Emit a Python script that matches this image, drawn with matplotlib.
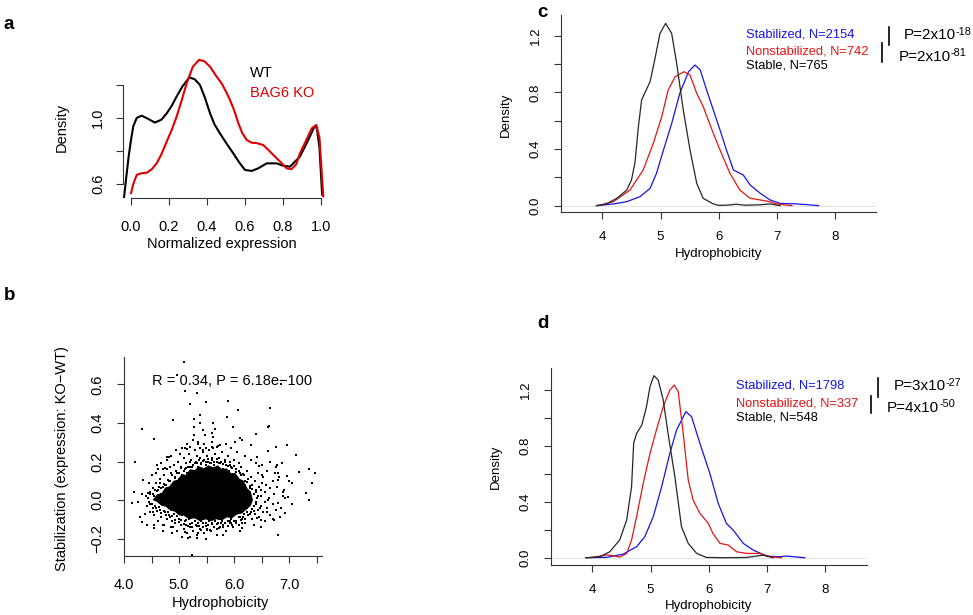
import numpy as np
import matplotlib
matplotlib.use('Agg')
import matplotlib.pyplot as plt
from matplotlib.lines import Line2D
from matplotlib.text import Annotation

plt.rcParams['font.family'] = ['Liberation Sans', 'DejaVu Sans']

# ---- panel a : density of normalized expression ----
wt_x = [-0.037, -0.025, -0.012, 0.0, 0.012, 0.03, 0.056, 0.09, 0.126, 0.16, 0.188, 0.215, 0.24, 0.27,
        0.307, 0.335, 0.363, 0.39, 0.416, 0.44, 0.468, 0.50, 0.538, 0.57, 0.60, 0.635, 0.67, 0.714,
        0.767, 0.80, 0.837, 0.889, 0.933, 0.962, 0.977, 0.992, 1.006]
wt_y = [0.515, 0.64, 0.77, 0.867, 0.95, 1.0, 1.014, 0.995, 0.972, 0.99, 1.028, 1.075, 1.13, 1.19,
        1.246, 1.235, 1.20, 1.12, 1.028, 0.96, 0.907, 0.85, 0.786, 0.73, 0.685, 0.679, 0.695, 0.725,
        0.725, 0.711, 0.705, 0.766, 0.867, 0.94, 0.947, 0.82, 0.533]
ko_x = [0.0, 0.012, 0.03, 0.055, 0.083, 0.11, 0.135, 0.16, 0.188, 0.215, 0.24, 0.265, 0.293, 0.325,
        0.358, 0.385, 0.416, 0.445, 0.477, 0.50, 0.521, 0.545, 0.565, 0.585, 0.609, 0.635, 0.661,
        0.696, 0.72, 0.749, 0.785, 0.819, 0.845, 0.87, 0.889, 0.92, 0.951, 0.975, 0.992, 1.012]
ko_y = [0.543, 0.60, 0.655, 0.665, 0.668, 0.69, 0.725, 0.78, 0.857, 0.93, 1.008, 1.10, 1.21, 1.31,
        1.352, 1.345, 1.311, 1.26, 1.21, 1.16, 1.109, 1.04, 0.968, 0.91, 0.867, 0.85, 0.848,
        0.836, 0.81, 0.776, 0.735, 0.695, 0.69, 0.72, 0.786, 0.86, 0.937, 0.958, 0.88, 0.523]

# ---- panel b : stabilization vs hydrophobicity ----
r_text = 'R = 0.34, P = 6.18e\u2212100'
# dense centre of the cloud (outline)
core_x = [4.52, 4.60, 4.68, 4.75, 4.82, 4.90, 4.97, 5.05, 5.12, 5.20, 5.28, 5.36, 5.45, 5.53, 5.62,
          5.70, 5.78, 5.86, 5.94, 6.02, 6.10, 6.17, 6.24, 6.30, 6.34, 6.30, 6.22, 6.14, 6.05, 5.96,
          5.87, 5.78, 5.68, 5.58, 5.48, 5.38, 5.28, 5.18, 5.08, 5.00, 4.92, 4.84, 4.76, 4.68, 4.60]
core_y = [0.0, 0.03, 0.035, 0.065, 0.07, 0.10, 0.105, 0.135, 0.13, 0.16, 0.155, 0.175, 0.165, 0.18,
          0.17, 0.18, 0.16, 0.165, 0.14, 0.14, 0.11, 0.10, 0.06, 0.045, 0.0, -0.03, -0.05, -0.07,
          -0.075, -0.095, -0.09, -0.105, -0.10, -0.11, -0.10, -0.11, -0.095, -0.10, -0.08, -0.08,
          -0.06, -0.055, -0.035, -0.03, -0.01]
# points hugging the centre
ring_x = [4.44, 4.48, 4.52, 4.56, 4.60, 4.64, 4.68, 4.72, 4.76, 4.80, 4.84, 4.88, 4.92, 4.96, 5.00,
          5.04, 5.08, 5.12, 5.16, 5.20, 5.24, 5.28, 5.32, 5.36, 5.40, 5.44, 5.48, 5.52, 5.56, 5.60,
          5.64, 5.68, 5.72, 5.76, 5.80, 5.84, 5.88, 5.92, 5.96, 6.00, 6.04, 6.08, 6.12, 6.16, 6.20,
          6.24, 6.28, 6.32, 6.36, 6.39, 6.42,
          4.48, 4.52, 4.56, 4.60, 4.64, 4.68, 4.72, 4.76, 4.80, 4.84, 4.88, 4.92, 4.96, 5.00, 5.04,
          5.08, 5.12, 5.16, 5.20, 5.24, 5.28, 5.32, 5.36, 5.40, 5.44, 5.48, 5.52, 5.56, 5.60, 5.64,
          5.68, 5.72, 5.76, 5.80, 5.84, 5.88, 5.92, 5.96, 6.00, 6.04, 6.08, 6.12, 6.16, 6.20, 6.24,
          6.28, 6.32, 6.36, 6.40, 6.44, 6.46, 6.48]
ring_y = [0.012, 0.03, 0.03, 0.05, 0.045, 0.068, 0.06, 0.085, 0.08, 0.103, 0.10, 0.13, 0.115, 0.14,
          0.14, 0.165, 0.149, 0.165, 0.17, 0.195, 0.172, 0.19, 0.19, 0.21, 0.185, 0.201, 0.195,
          0.213, 0.192, 0.207, 0.197, 0.212, 0.19, 0.20, 0.186, 0.199, 0.175, 0.181, 0.165, 0.175,
          0.148, 0.153, 0.132, 0.135, 0.10, 0.095, 0.075, 0.055, 0.03, 0.04, 0.01,
          -0.02, -0.04, -0.03, -0.055, -0.035, -0.065, -0.058, -0.08, -0.06, -0.09, -0.083, -0.105,
          -0.085, -0.115, -0.105, -0.125, -0.105, -0.135, -0.122, -0.141, -0.11, -0.135, -0.133,
          -0.153, -0.119, -0.135, -0.129, -0.153, -0.123, -0.139, -0.125, -0.147, -0.119, -0.138,
          -0.12, -0.135, -0.108, -0.13, -0.11, -0.121, -0.089, -0.106, -0.09, -0.10, -0.063, -0.073,
          -0.045, -0.055, -0.02, 0.02, -0.04, 0.05]
# looser points further out
halo_x = [4.40, 4.45, 4.48, 4.52, 4.55, 4.58, 4.62, 4.65, 4.68, 4.70, 4.72, 4.75, 4.78, 4.80, 4.82,
          4.85, 4.88, 4.90, 4.92, 4.95, 4.98, 5.00, 5.03, 5.05, 5.08, 5.10, 5.12, 5.15, 5.18, 5.20,
          5.22, 5.25, 5.28, 5.30, 5.33, 5.35, 5.38, 5.40, 5.43, 5.45, 5.48, 5.50, 5.53, 5.55, 5.58,
          5.60, 5.63, 5.65, 5.68, 5.70, 5.73, 5.75, 5.78, 5.80, 5.83, 5.85, 5.88, 5.90, 5.93, 5.95,
          5.98, 6.00, 6.03, 6.05, 6.08, 6.10, 6.13, 6.15, 6.18, 6.20, 6.23, 6.25, 6.28, 6.30, 6.33,
          6.35, 6.38, 6.40, 6.43, 6.45, 6.48, 6.50, 6.53, 6.55, 6.58, 6.60, 6.63, 6.65, 6.70, 6.72,
          6.75, 6.78, 6.82, 6.88,
          4.42, 4.47, 4.50, 4.55, 4.58, 4.62, 4.65, 4.68, 4.72, 4.75, 4.78, 4.82, 4.85, 4.88, 4.90,
          4.93, 4.96, 5.00, 5.03, 5.05, 5.08, 5.10, 5.13, 5.15, 5.18, 5.20, 5.23, 5.25, 5.28, 5.30,
          5.33, 5.35, 5.38, 5.40, 5.43, 5.45, 5.48, 5.50, 5.53, 5.55, 5.58, 5.60, 5.63, 5.65, 5.68,
          5.70, 5.73, 5.75, 5.78, 5.80, 5.83, 5.85, 5.88, 5.90, 5.93, 5.95, 5.98, 6.00, 6.03, 6.05,
          6.08, 6.10, 6.13, 6.15, 6.18, 6.20, 6.23, 6.25, 6.28, 6.30, 6.33, 6.35, 6.38, 6.40, 6.43,
          6.45, 6.48, 6.52, 6.55, 6.60, 6.65, 6.70, 6.75,
          4.25, 4.32, 4.38, 4.45, 4.50, 4.55, 4.62, 4.68, 4.70, 4.78, 4.85, 4.88, 4.95, 5.05, 5.05,
          5.15, 5.25, 5.35, 5.45, 5.48, 5.60, 5.70, 5.80, 5.85, 5.95, 6.05, 6.10, 6.20, 6.30, 6.35,
          6.40, 6.50, 6.55, 6.65, 6.70, 6.80, 6.85, 6.90, 7.00, 7.05]
halo_y = [0.02, -0.01, 0.04, 0.06, 0.02, 0.09, 0.05, 0.11, 0.03, 0.07, 0.13, 0.08, 0.16, 0.05, 0.10,
          0.14, 0.07, 0.18, 0.12, 0.15, 0.20, 0.11, 0.17, 0.13, 0.22, 0.16, 0.19, 0.14, 0.24, 0.17,
          0.21, 0.18, 0.26, 0.20, 0.23, 0.17, 0.22, 0.19, 0.25, 0.21, 0.18, 0.23, 0.20, 0.26, 0.19,
          0.22, 0.18, 0.24, 0.20, 0.17, 0.22, 0.19, 0.25, 0.16, 0.21, 0.18, 0.23, 0.15, 0.20, 0.17,
          0.13, 0.21, 0.16, 0.12, 0.19, 0.14, 0.17, 0.10, 0.13, 0.08, 0.15, 0.11, 0.06, 0.12, 0.08,
          0.03, 0.10, 0.05, 0.14, 0.07, 0.02, 0.09, 0.12, 0.04, 0.08, 0.15, 0.01, 0.06, 0.10, 0.03,
          0.17, 0.07, 0.12, 0.02,
          -0.03, -0.06, -0.02, -0.08, -0.04, -0.11, -0.05, -0.09, -0.13, -0.06, -0.10, -0.08, -0.14,
          -0.11, -0.07, -0.12, -0.16, -0.10, -0.13, -0.08, -0.15, -0.11, -0.13, -0.17, -0.10, -0.14,
          -0.12, -0.16, -0.11, -0.13, -0.18, -0.12, -0.15, -0.11, -0.14, -0.17, -0.12, -0.15, -0.13,
          -0.11, -0.16, -0.12, -0.14, -0.11, -0.15, -0.12, -0.10, -0.14, -0.11, -0.13, -0.09, -0.16,
          -0.11, -0.08, -0.12, -0.10, -0.14, -0.08, -0.11, -0.06, -0.13, -0.09, -0.05, -0.10, -0.07,
          -0.12, -0.04, -0.08, -0.02, -0.06, -0.10, -0.03, -0.07, -0.01, -0.05, -0.09, -0.03, -0.06,
          -0.01, -0.04, -0.08, -0.02, -0.05,
          -0.01, 0.03, -0.07, 0.09, 0.13, -0.13, 0.16, 0.19, -0.16, 0.21, 0.23, -0.17, 0.26, 0.27,
          -0.19, 0.29, 0.31, 0.30, 0.29, -0.20, 0.30, 0.28, -0.18, 0.29, 0.27, 0.25, -0.16, 0.23,
          0.21, -0.13, 0.19, 0.18, -0.11, 0.20, -0.10, 0.14, -0.04, 0.05, 0.10, -0.02]
# isolated points
out_x = [5.095, 4.96, 6.85, 5.105, 5.32, 5.20, 5.48, 5.885, 6.063, 6.655, 4.895, 4.327, 4.545, 4.20,
         5.38, 5.27, 5.37, 5.61, 5.875, 5.27, 5.44, 5.65, 5.59, 5.27, 5.47, 5.61, 5.98, 6.61, 6.63,
         6.39, 6.96, 6.75, 6.01, 6.10, 6.14, 6.30, 7.12, 6.62, 7.47, 7.35, 7.18, 7.42, 7.30, 7.36,
         7.04, 6.95, 6.86, 6.77, 6.74, 6.80, 6.89, 6.93, 6.98, 6.80, 6.92, 6.83, 6.79, 6.59, 6.49,
         6.41, 6.14, 6.15, 5.95, 6.62, 6.45, 6.50, 6.41, 4.14, 4.18, 4.35, 4.32, 4.29, 4.53, 4.70,
         4.895, 5.17, 5.23, 5.11, 5.35, 5.50, 4.775, 4.835, 4.70, 4.58, 4.44, 4.65, 5.20, 5.35,
         5.11, 5.44, 5.59, 5.68, 5.74, 5.38, 5.49, 5.62, 4.55, 4.41, 5.68, 5.32, 5.19, 6.49, 6.72,
         4.59, 4.75, 4.81, 5.02, 5.14]
out_y = [0.718, 0.65, 0.603, 0.568, 0.554, 0.497, 0.509, 0.516, 0.468, 0.476, 0.414, 0.370, 0.318,
         0.199, 0.44, 0.42, 0.40, 0.398, 0.433, 0.381, 0.364, 0.367, 0.35, 0.338, 0.338, 0.326, 0.381,
         0.38, 0.385, 0.341, 0.284, 0.274, 0.303, 0.32, 0.312, 0.284, 0.234, 0.255, 0.139, 0.16,
         0.147, 0.087, 0.038, 0.0, 0.087, 0.125, 0.19, 0.182, 0.139, 0.104, 0.043, 0.009, 0.014,
         -0.017, -0.069, -0.09, -0.18, -0.061, -0.104, -0.095, -0.147, -0.121, -0.121, 0.0, 0.177,
         0.13, 0.222, -0.014, 0.043, 0.104, -0.113, -0.09, -0.061, -0.13, -0.142, -0.196, -0.286,
         -0.165, -0.173, -0.156, 0.225, 0.17, 0.16, 0.139, 0.035, 0.087, 0.277, 0.291, 0.268, 0.26,
         0.277, 0.274, 0.286, 0.27, 0.27, 0.27, -0.147, -0.129, -0.181, -0.195, -0.193, -0.138,
         -0.103, 0.181, 0.164, 0.224, 0.241, 0.267]

# ---- panels c and d : hydrophobicity densities ----
c_stable_x = [3.90, 4.07, 4.25, 4.42, 4.50, 4.56, 4.62, 4.675, 4.74, 4.82, 4.90, 4.99, 5.087, 5.19,
              5.276, 5.39, 5.505, 5.62, 5.73, 5.905, 6.0, 6.15, 6.3, 6.45, 6.7, 6.88, 7.05]
c_stable_y = [0, 0.012, 0.052, 0.11, 0.18, 0.30, 0.56, 0.746, 0.805, 0.875, 1.03, 1.216, 1.287,
              1.216, 1.005, 0.675, 0.393, 0.158, 0.052, 0.012, 0.002, 0.004, 0.01, 0.003, 0.006,
              0.012, 0]
c_nonstab_x = [3.93, 4.19, 4.475, 4.70, 4.875, 5.02, 5.13, 5.25, 5.40, 5.505, 5.62, 5.73, 5.905,
               6.02, 6.19, 6.36, 6.535, 6.71, 6.85, 6.99, 7.25]
c_nonstab_y = [0, 0.028, 0.11, 0.25, 0.44, 0.628, 0.816, 0.91, 0.946, 0.922, 0.793, 0.70, 0.51,
               0.393, 0.228, 0.11, 0.052, 0.04, 0.03, 0.012, 0]
c_stabil_x = [3.90, 4.19, 4.42, 4.65, 4.82, 4.93, 5.05, 5.19, 5.33, 5.48, 5.59, 5.68, 5.79, 5.905,
              6.02, 6.13, 6.25, 6.33, 6.42, 6.535, 6.71, 6.88, 7.05, 7.34, 7.51, 7.71]
c_stabil_y = [0, 0.012, 0.028, 0.064, 0.122, 0.228, 0.393, 0.58, 0.793, 0.946, 0.993, 0.958, 0.816,
              0.675, 0.534, 0.393, 0.252, 0.235, 0.216, 0.146, 0.087, 0.04, 0.016, 0.012, 0.007, 0]

d_stable_x = [3.89, 4.13, 4.30, 4.47, 4.59, 4.674, 4.71, 4.76, 4.85, 4.93, 4.99, 5.057, 5.13, 5.217,
              5.30, 5.417, 5.53, 5.646, 5.79, 5.96, 6.3, 6.65, 6.93, 7.1]
d_stable_y = [0, 0.007, 0.043, 0.127, 0.27, 0.509, 0.82, 0.89, 0.95, 1.082, 1.225, 1.304, 1.273,
              1.13, 0.89, 0.58, 0.222, 0.103, 0.031, 0.002, 0.0, 0.002, 0.019, 0.0]
d_nonstab_x = [3.96, 4.25, 4.36, 4.47, 4.59, 4.674, 4.76, 4.874, 4.99, 5.10, 5.217, 5.33, 5.406,
               5.474, 5.56, 5.646, 5.73, 5.846, 5.99, 6.07, 6.19, 6.33, 6.474, 6.646, 6.874, 7.046,
               7.246]
d_nonstab_y = [0, 0.02, 0.015, 0.005, 0.03, 0.127, 0.294, 0.533, 0.747, 0.915, 1.082, 1.2, 1.237,
               1.19, 0.89, 0.556, 0.413, 0.318, 0.246, 0.174, 0.103, 0.091, 0.043, 0.031, 0.031,
               0.007, 0]
d_stabil_x = [3.89, 4.25, 4.53, 4.76, 4.90, 5.046, 5.19, 5.33, 5.446, 5.606, 5.703, 5.846, 6.017,
              6.16, 6.30, 6.417, 6.59, 6.76, 6.99, 7.217, 7.33, 7.646]
d_stabil_y = [0, 0.003, 0.026, 0.079, 0.15, 0.294, 0.509, 0.747, 0.915, 1.046, 1.01, 0.819, 0.604,
              0.39, 0.246, 0.198, 0.103, 0.055, 0.012, 0.007, 0.012, 0]

c_legend = ['Stabilized, N=2154', 'Nonstabilized, N=742', 'Stable, N=765']
c_pvals = [('P=2x10', '-18'), ('P=2x10', '-81')]
d_legend = ['Stabilized, N=1798', 'Nonstabilized, N=337', 'Stable, N=548']
d_pvals = [('P=3x10', '-27'), ('P=4x10', '-50')]

W, H = 973, 615
fig = plt.figure(figsize=(W / 100, H / 100), dpi=100)
fig.patch.set_facecolor('white')

blue, red, dark = '#1414e6', '#e61414', '#262626'
spine_col = '#333333'


def box(l, t, r, b):
  return [l / W, 1 - b / H, (r - l) / W, (b - t) / H]


def ftext(x, y, s, **kw):
  return fig.text(x / W, 1 - y / H, s, **kw)


def vbar(x, y0, y1):
  fig.add_artist(Line2D([x / W, x / W], [1 - y0 / H, 1 - y1 / H], transform=fig.transFigure,
                        color='black', lw=1.2))


def r_style(ax, fs, xpad, ypad):
  for s in ['top', 'right']:
    ax.spines[s].set_visible(False)
  for s in ['left', 'bottom']:
    ax.spines[s].set_color(spine_col)
    ax.spines[s].set_linewidth(0.8)
  ax.tick_params(direction='out', length=5.2, width=0.8, color=spine_col, labelsize=fs)
  ax.tick_params(axis='x', pad=xpad)
  ax.tick_params(axis='y', pad=ypad)
  plt.setp(ax.get_yticklabels(), rotation=90, va='center', ha='right')


# panel a
ax = fig.add_axes(box(123.4, 55.3, 328.6, 198))
ax.plot(wt_x, wt_y, color='black', lw=1.5, solid_capstyle='round')
ax.plot(ko_x, ko_y, color='#e00000', lw=1.5, solid_capstyle='round')
ax.set_xlim(-0.04, 1.04)
ax.set_ylim(0.515, 1.38)
ax.set_xticks([0, 0.2, 0.4, 0.6, 0.8, 1.0])
ax.set_xticklabels(['0.0', '0.2', '0.4', '0.6', '0.8', '1.0'])
ax.set_yticks([0.6, 0.8, 1.0, 1.2])
ax.set_yticklabels(['0.6', '', '1.0', ''])
ax.spines['left'].set_bounds(0.6, 1.2)
ax.spines['bottom'].set_bounds(0, 1)
r_style(ax, 10.5, 10.5, 8)
ftext(62, 127.5, 'Density', rotation=90, ha='center', va='center', fontsize=10.5)
ftext(222, 244, 'Normalized expression', ha='center', va='center', fontsize=10.5)
ftext(250, 76.7, 'WT', color='black', fontsize=10.5, va='baseline')
ftext(250, 96.7, 'BAG6 KO', color='#e00000', fontsize=10.5, va='baseline')

# panel b
ax = fig.add_axes(box(124, 357.3, 322.4, 555.7))
ax.fill(core_x, core_y, color='black', lw=0)
ax.plot(ring_x, ring_y, 's', color='black', ms=1.8, mew=0)
ax.plot(halo_x, halo_y, 's', color='black', ms=1.7, mew=0)
ax.plot(out_x, out_y, 's', color='black', ms=1.7, mew=0)
ax.set_xlim(4.0, 7.6)
ax.set_ylim(-0.289, 0.741)
ax.set_xticks([4.0, 4.5, 5.0, 5.5, 6.0, 6.5, 7.0, 7.5])
ax.set_xticklabels(['4.0', '', '5.0', '', '6.0', '', '7.0', ''])
ax.set_yticks([-0.2, 0.0, 0.2, 0.4, 0.6])
ax.set_yticklabels(['\u22120.2', '0.0', '0.2', '0.4', '0.6'])
r_style(ax, 10.5, 11, 9)
ftext(61.7, 458.3, 'Stabilization (expression: KO\u2212WT)', rotation=90, ha='center',
      va='center', fontsize=10.5)
ftext(220, 603, 'Hydrophobicity', ha='center', va='center', fontsize=10.5)
ftext(232.5, 385, r_text, ha='center', va='baseline', fontsize=10.5)


def density_panel(rect, ylim, curves, legend, pvals, lab_y, lab_x, leg_x, leg_base, p_x, p_base,
                  bars):
  ax = fig.add_axes(box(*rect))
  ax.axhline(0, color='#dddddd', lw=0.6, zorder=0)
  for (xs, ys), col in zip(curves, [blue, red, dark]):
    ax.plot(xs, ys, color=col, lw=0.9)
  ax.set_xlim(3.292, 3.292 + (rect[2] - rect[0]) / 58.3)
  ax.set_ylim(*ylim)
  ax.set_xticks([4, 5, 6, 7, 8])
  ax.set_yticks([0, 0.2, 0.4, 0.6, 0.8, 1.0, 1.2])
  ax.set_yticklabels(['0.0', '', '0.4', '', '0.8', '', '1.2'])
  r_style(ax, 9.5, 8.5, 8.5)
  ftext(lab_y[0], lab_y[1], 'Density', rotation=90, ha='center', va='center', fontsize=9.5)
  ftext(lab_x[0], lab_x[1], 'Hydrophobicity', ha='center', va='center', fontsize=9.5)
  for s, col, yb in zip(legend, [blue, red, 'black'], leg_base):
    ftext(leg_x, yb, s, color=col, fontsize=9.3, va='baseline')
  for (base, sup), xp, yb in zip(pvals, p_x, p_base):
    t = ftext(xp, yb, base, color='black', fontsize=11, va='baseline')
    fig.add_artist(Annotation(sup, xy=(1, 1), xycoords=t, xytext=(0.2, 1.0),
                              textcoords='offset points', fontsize=7.8, va='top', ha='left'))
  for bx, y0, y1 in bars:
    vbar(bx, y0, y1)


density_panel((561, 15, 876, 212.3), (-0.047, 1.346),
              [(c_stabil_x, c_stabil_y), (c_nonstab_x, c_nonstab_y), (c_stable_x, c_stable_y)],
              c_legend, c_pvals, (506, 115), (718.7, 254), 745.7, [37.3, 54, 69],
              [903.3, 898.3], [39.3, 60.7], [(889.3, 27.3, 45), (881.7, 43.3, 61.7)])
density_panel((551, 367.7, 866.7, 565), (-0.052, 1.361),
              [(d_stabil_x, d_stabil_y), (d_nonstab_x, d_nonstab_y), (d_stable_x, d_stable_y)],
              d_legend, d_pvals, (496, 466.7), (708.7, 605.5), 735.7, [388.3, 406, 421],
              [893.3, 886.7], [390, 411.7], [(878.3, 378.3, 396.7), (870.7, 395.7, 413.3)])

# panel letters
for s, x, y in [('a', 3, 29.3), ('b', 3.5, 300), ('c', 537, 17), ('d', 537, 328)]:
  ftext(x, y, s, fontsize=13.5, fontweight='bold', va='baseline')

fig.savefig('out.png', dpi=100, facecolor='white')
